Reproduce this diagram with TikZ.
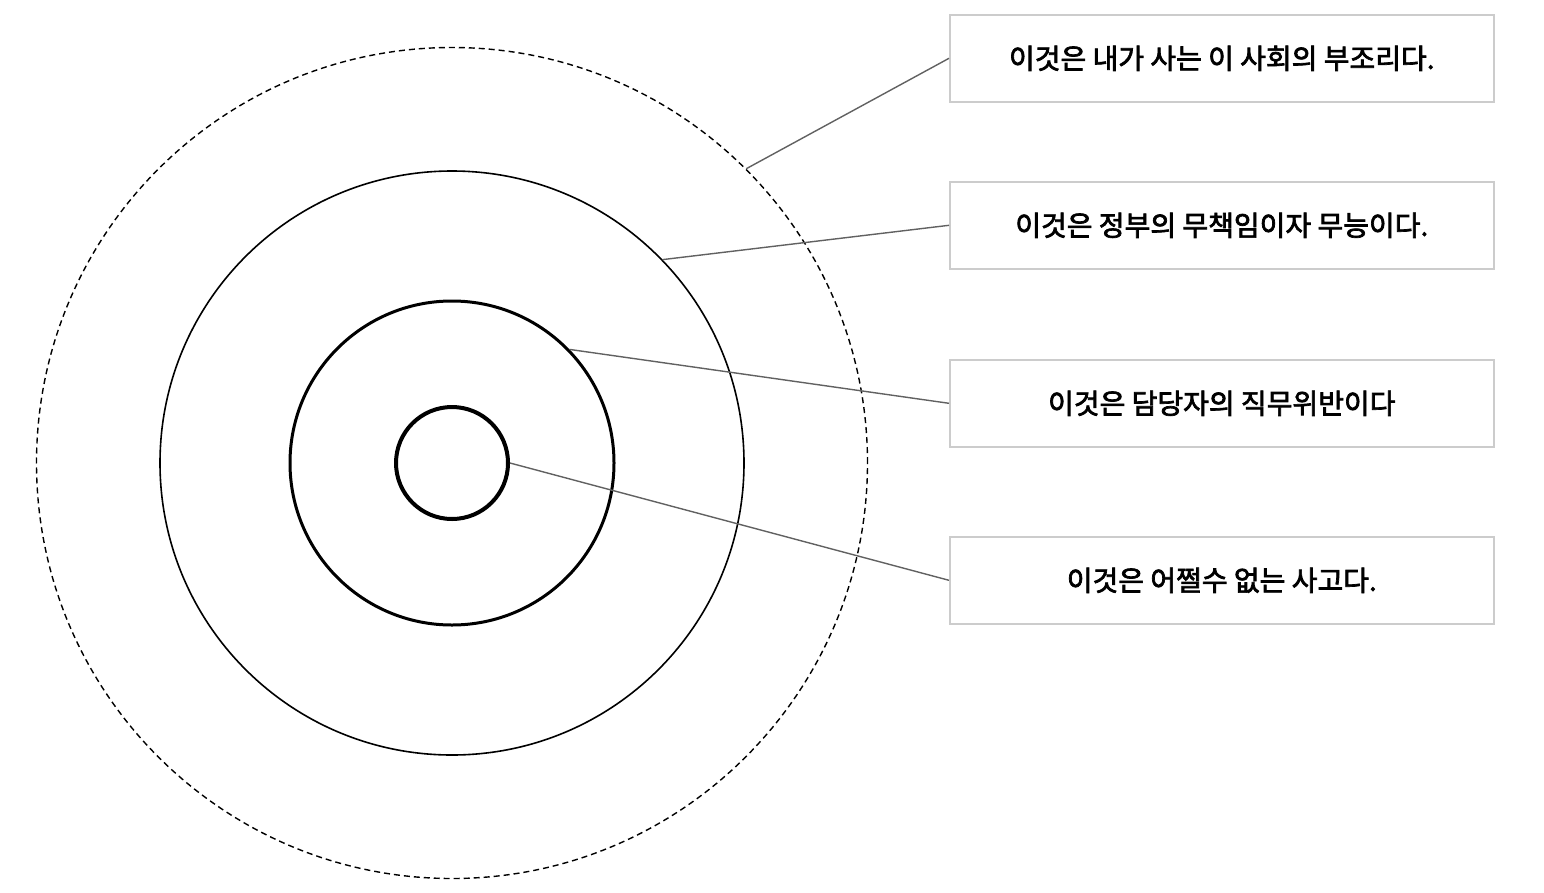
\documentclass[tikz,border=0pt]{standalone}
\usepackage{fontspec}
\newfontfamily\kr{Noto Sans CJK KR}
\newcommand{\medtext}[1]{\special{pdf:literal direct 2 Tr 0.7 w 0 0 0 RG}#1\special{pdf:literal direct 0 Tr}}
\begin{document}
\begin{tikzpicture}[x=1pt,y=-1pt,
  ring/.style={draw=black,fill=none},
  label box/.style={draw=black!20,line width=1.6pt,minimum width=544pt,minimum height=87pt,inner sep=0pt,anchor=north west,font=\kr\fontsize{28}{32}\selectfont},
  leader/.style={draw=black!62,line width=1.4pt}]
\useasboundingbox (0,0) rectangle (1544,892);
% rings
\node[ring,circle,minimum size=831pt,inner sep=0pt,line width=1.4pt,dash pattern=on 6pt off 4pt] (c4) at (452,463) {};
\node[ring,circle,minimum size=584pt,inner sep=0pt,line width=1.6pt] (c3) at (452,463) {};
\node[ring,circle,minimum size=324pt,inner sep=0pt,line width=3pt] (c2) at (452,463) {};
\node[ring,circle,minimum size=112pt,inner sep=0pt,line width=4pt] (c1) at (452,463) {};
% boxes
\node[label box] (b1) at (949,14) {\medtext{이것은 내가 사는 이 사회의 부조리다.}};
\node[label box] (b2) at (949,181) {\medtext{이것은 정부의 무책임이자 무능이다.}};
\node[label box] (b3) at (949,359) {\medtext{이것은 담당자의 직무위반이다}};
\node[label box] (b4) at (949,536) {\medtext{이것은 어쩔수 없는 사고다.}};
% leaders
\draw[leader] (c4.{atan2(463-168,746-452)}) -- (b1.west);
\draw[leader] (c3.{atan2(463-256,661-452)}) -- (b2.west);
\draw[leader] (c2.{atan2(463-348,568-452)}) -- (b3.west);
\draw[leader] (c1.east) -- (b4.west);
\end{tikzpicture}
\end{document}
